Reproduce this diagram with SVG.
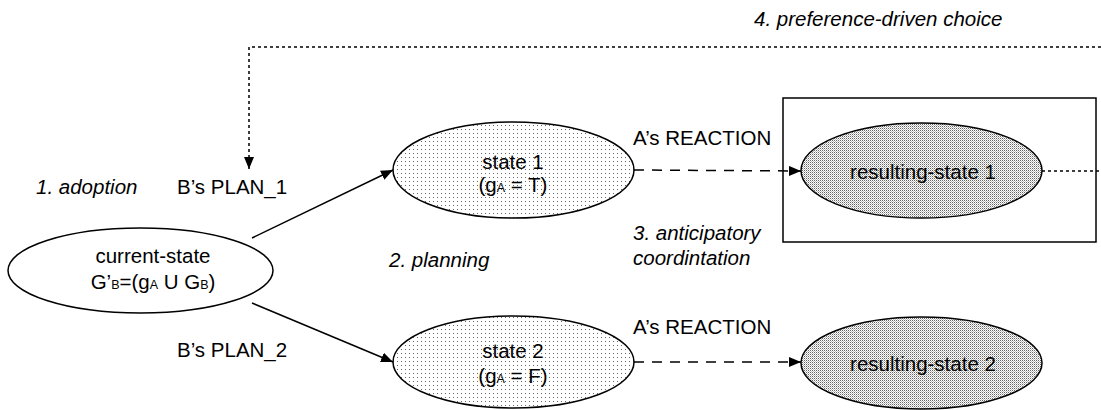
<svg xmlns="http://www.w3.org/2000/svg" width="1101" height="410" viewBox="0 0 1101 410">
<style>
text{font-family:"Liberation Sans",Arial,sans-serif;font-size:20.5px;fill:#000}
.it{font-style:italic}
.mid{text-anchor:middle}
.sub{font-size:12.5px}
.node{stroke:#000;stroke-width:1.5}
.solid{stroke:#000;stroke-width:1.5;fill:none}
.dash{stroke:#000;stroke-width:1.5;fill:none;stroke-dasharray:10 8}
.dot{stroke:#000;stroke-width:1.5;fill:none;stroke-dasharray:3 3}
</style>
<defs>
<marker id="arr" viewBox="0 0 12 10" refX="12" refY="5" markerWidth="12" markerHeight="10" markerUnits="userSpaceOnUse" orient="auto">
<path d="M0,0 L12,5 L0,10 z" fill="#000" stroke="none"/>
</marker>
<pattern id="sparse" width="4" height="4" patternUnits="userSpaceOnUse">
<rect width="4" height="4" fill="#fff"/>
<rect x="1" y="1" width="1" height="1" fill="#666"/>
</pattern>
<pattern id="dense" width="2" height="2" patternUnits="userSpaceOnUse">
<rect width="2" height="2" fill="#fff"/>
<rect width="1" height="1" fill="#666"/>
<rect x="1" y="1" width="1" height="1" fill="#bbb"/>
</pattern>
</defs>
<rect width="1101" height="410" fill="#fff"/>
<rect id="box" x="783" y="98" width="313" height="144" fill="none" stroke="#000" stroke-width="1.5"/>
<g id="connectors">
<path class="dot" d="M1101,47 H249 V169" marker-end="url(#arr)"/>
<path class="solid" d="M252,238 L393,170" marker-end="url(#arr)"/>
<path class="solid" d="M252,303 L393,362" marker-end="url(#arr)"/>
<path class="dash" d="M634,170 L801,171" marker-end="url(#arr)"/>
<path class="dash" d="M634,362 L801,362" marker-end="url(#arr)"/>
<path class="dot" d="M1042,171 H1101"/>
</g>
<g id="current-state">
<ellipse class="node" cx="140.5" cy="270.5" rx="132.5" ry="42.5" fill="#fff"/>
<text class="mid" x="153" y="263">current-state</text>
<text class="mid" x="153" y="289">G’<tspan class="sub">B</tspan>=(g<tspan class="sub">A</tspan> U G<tspan class="sub">B</tspan>)</text>
</g>
<g id="state1">
<ellipse class="node" cx="513.5" cy="170" rx="120.5" ry="48" fill="url(#sparse)"/>
<text class="mid" x="513" y="169">state 1</text>
<text class="mid" x="513" y="192">(g<tspan class="sub">A</tspan> = T)</text>
</g>
<g id="state2">
<ellipse class="node" cx="513.5" cy="362" rx="120.5" ry="46" fill="url(#sparse)"/>
<text class="mid" x="513" y="358">state 2</text>
<text class="mid" x="513" y="383">(g<tspan class="sub">A</tspan> = F)</text>
</g>
<g id="resulting-state1">
<ellipse class="node" cx="921.5" cy="170.5" rx="120.5" ry="47.5" fill="url(#dense)"/>
<text class="mid" x="923" y="179">resulting-state 1</text>
</g>
<g id="resulting-state2">
<ellipse class="node" cx="921.5" cy="363" rx="120.5" ry="46" fill="url(#dense)"/>
<text class="mid" x="923" y="371">resulting-state 2</text>
</g>
<g id="labels">
<text class="it" x="754" y="26">4. preference-driven choice</text>
<text class="it" x="36" y="194">1. adoption</text>
<text x="177" y="194">B’s PLAN_1</text>
<text x="177" y="357">B’s PLAN_2</text>
<text class="it" x="389" y="267">2. planning</text>
<text x="633" y="145">A’s REACTION</text>
<text x="633" y="334">A’s REACTION</text>
<text class="it" x="633" y="240">3. anticipatory</text>
<text class="it" x="633" y="265">coordintation</text>
</g>
</svg>
